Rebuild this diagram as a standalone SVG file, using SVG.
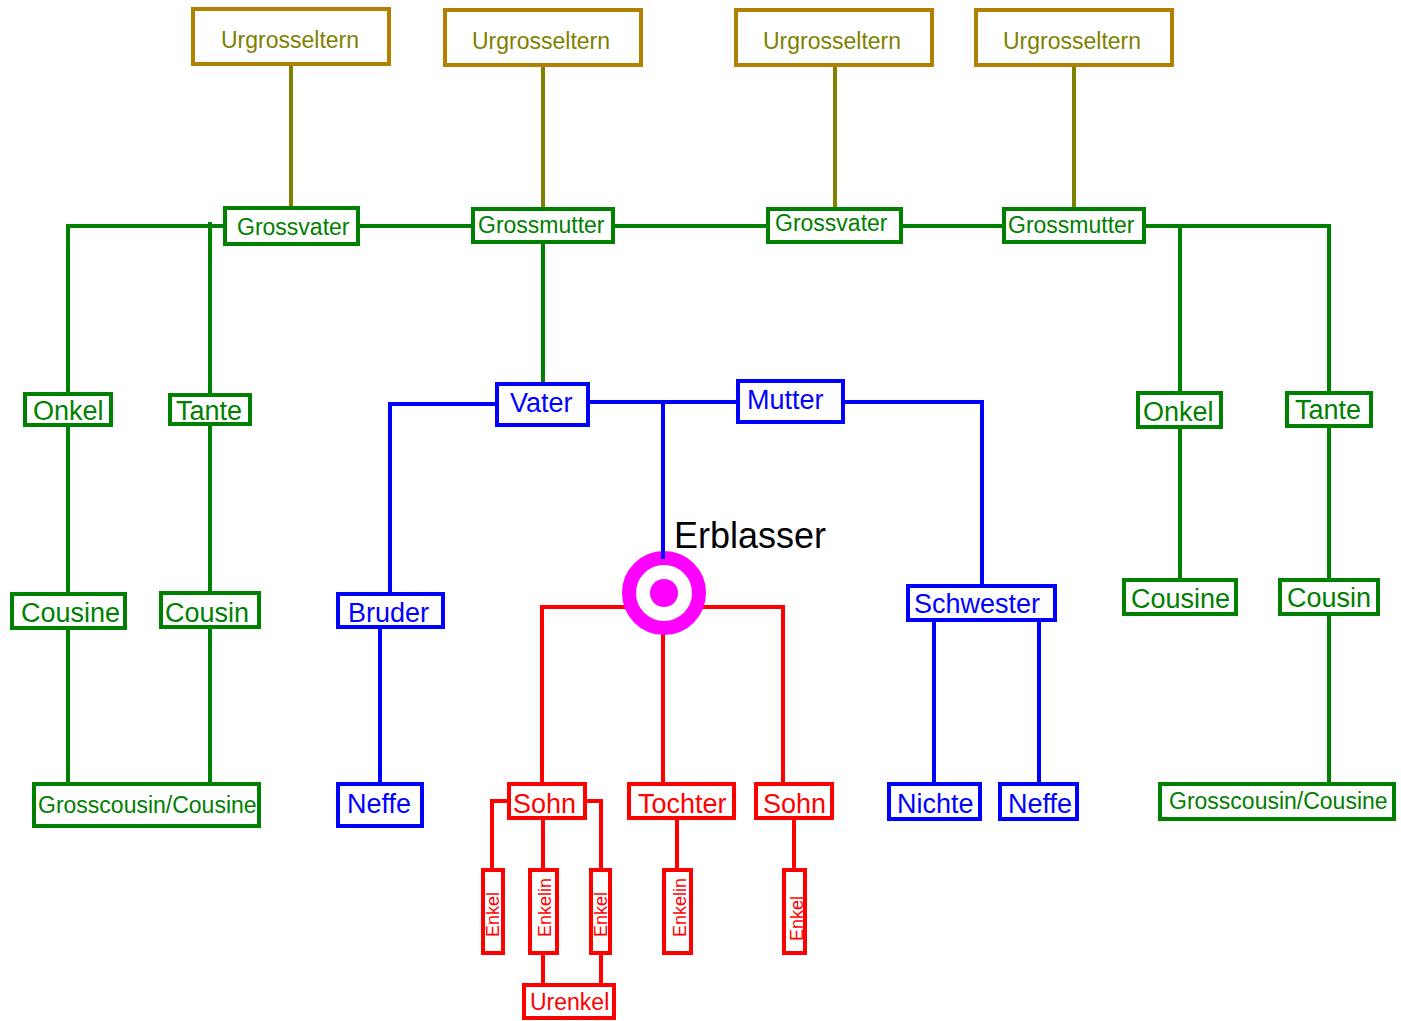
<svg xmlns="http://www.w3.org/2000/svg" width="1401" height="1021" viewBox="0 0 1401 1021">
<style>
rect{fill:#fff;stroke-width:4}
text{font-family:"Liberation Sans",Arial,sans-serif}
.u rect{stroke:#B08000}
.u text{fill:#808000;font-size:23px}
.g rect{stroke:#008000}
.g text{fill:#008000;font-size:27px}
.b rect{stroke:#0000FF}
.b text{fill:#0000FF;font-size:27px}
.r rect{stroke:#FF0000}
.r text{fill:#FF0000;font-size:27px}
.sm text{font-size:23px}
.e text{font-size:18px}
#connectors line,#connectors polyline{fill:none;stroke-width:4}
.lo{stroke:#808000}
.lg{stroke:#008000}
.lb{stroke:#0000FF}
.lr{stroke:#FF0000}
</style>
<rect x="0" y="0" width="1401" height="1021" style="fill:#fff;stroke:none"/>
<g id="connectors">
<line class="lo" x1="291" y1="66" x2="291" y2="207"/>
<line class="lo" x1="543" y1="67" x2="543" y2="208"/>
<line class="lo" x1="835" y1="67" x2="835" y2="208"/>
<line class="lo" x1="1074" y1="67" x2="1074" y2="208"/>
<line class="lg" x1="68" y1="226" x2="1329" y2="226"/>
<line class="lg" x1="68" y1="224" x2="68" y2="782"/>
<line class="lg" x1="210" y1="222" x2="210" y2="782"/>
<line class="lg" x1="1180" y1="224" x2="1180" y2="578"/>
<line class="lg" x1="1329" y1="224" x2="1329" y2="782"/>
<line class="lg" x1="543" y1="244" x2="543" y2="383"/>
<polyline class="lb" points="495,404 390,404 390,592"/>
<line class="lb" x1="380" y1="629" x2="380" y2="782"/>
<line class="lb" x1="590" y1="402" x2="736" y2="402"/>
<polyline class="lb" points="845,402 982,402 982,585"/>
<line class="lb" x1="934" y1="622" x2="934" y2="782"/>
<line class="lb" x1="1039" y1="622" x2="1039" y2="782"/>
<polyline class="lr" points="628,607 542,607 542,783"/>
<polyline class="lr" points="699,607 783,607 783,783"/>
<line class="lr" x1="663" y1="626" x2="663" y2="783"/>
<polyline class="lr" points="507,801 492,801 492,868"/>
<polyline class="lr" points="587,801 601,801 601,868"/>
<line class="lr" x1="543" y1="820" x2="543" y2="868"/>
<line class="lr" x1="677" y1="820" x2="677" y2="868"/>
<line class="lr" x1="794" y1="820" x2="794" y2="868"/>
<line class="lr" x1="543" y1="955" x2="543" y2="983"/>
<line class="lr" x1="601" y1="955" x2="601" y2="983"/>
</g>
<g id="erblasser">
<circle cx="664" cy="593" r="35" fill="#fff" stroke="#FF00FF" stroke-width="14"/>
<circle cx="664" cy="593" r="14" fill="#FF00FF"/>
<line x1="663" y1="402" x2="663" y2="559" stroke="#0000FF" stroke-width="4"/>
<text x="674" y="548" font-size="36" fill="#000">Erblasser</text>
</g>
<g id="urgrosseltern1" class="u"><rect x="193" y="9" width="196" height="55"/><text x="221" y="48">Urgrosseltern</text></g>
<g id="urgrosseltern2" class="u"><rect x="445" y="10" width="196" height="55"/><text x="472" y="49">Urgrosseltern</text></g>
<g id="urgrosseltern3" class="u"><rect x="736" y="10" width="196" height="55"/><text x="763" y="49">Urgrosseltern</text></g>
<g id="urgrosseltern4" class="u"><rect x="976" y="10" width="196" height="55"/><text x="1003" y="49">Urgrosseltern</text></g>
<g id="grossvater1" class="g sm"><rect x="225" y="208" width="133" height="36"/><text x="237" y="235">Grossvater</text></g>
<g id="grossmutter1" class="g sm"><rect x="473" y="209" width="140" height="33"/><text x="478" y="233">Grossmutter</text></g>
<g id="grossvater2" class="g sm"><rect x="768" y="209" width="133" height="33"/><text x="775" y="231">Grossvater</text></g>
<g id="grossmutter2" class="g sm"><rect x="1004" y="209" width="140" height="33"/><text x="1008" y="233">Grossmutter</text></g>
<g id="onkel1" class="g"><rect x="25" y="394" width="86" height="31"/><text x="33" y="420">Onkel</text></g>
<g id="tante1" class="g"><rect x="170" y="395" width="80" height="29"/><text x="176" y="420">Tante</text></g>
<g id="cousine1" class="g"><rect x="12" y="594" width="113" height="34"/><text x="21" y="622">Cousine</text></g>
<g id="cousin1" class="g"><rect x="161" y="593" width="98" height="34"/><text x="165" y="622">Cousin</text></g>
<g id="grosscousin1" class="g sm"><rect x="34" y="784" width="225" height="42"/><text x="38" y="813">Grosscousin/Cousine</text></g>
<g id="bruder" class="b"><rect x="338" y="594" width="105" height="33"/><text x="348" y="622">Bruder</text></g>
<g id="neffe1" class="b"><rect x="338" y="784" width="84" height="42"/><text x="347" y="813">Neffe</text></g>
<g id="vater" class="b"><rect x="497" y="384" width="91" height="41"/><text x="510" y="412">Vater</text></g>
<g id="mutter" class="b"><rect x="738" y="381" width="105" height="41"/><text x="747" y="409">Mutter</text></g>
<g id="schwester" class="b"><rect x="908" y="586" width="147" height="34"/><text x="914" y="613">Schwester</text></g>
<g id="nichte" class="b"><rect x="889" y="784" width="91" height="35"/><text x="897" y="813">Nichte</text></g>
<g id="neffe2" class="b"><rect x="1000" y="784" width="77" height="35"/><text x="1008" y="813">Neffe</text></g>
<g id="onkel2" class="g"><rect x="1138" y="393" width="83" height="34"/><text x="1143" y="421">Onkel</text></g>
<g id="tante2" class="g"><rect x="1287" y="393" width="84" height="33"/><text x="1295" y="419">Tante</text></g>
<g id="cousine2" class="g"><rect x="1124" y="580" width="112" height="34"/><text x="1131" y="608">Cousine</text></g>
<g id="cousin2" class="g"><rect x="1280" y="580" width="98" height="34"/><text x="1287" y="607">Cousin</text></g>
<g id="grosscousin2" class="g sm"><rect x="1160" y="784" width="234" height="35"/><text x="1169" y="809">Grosscousin/Cousine</text></g>
<g id="sohn1" class="r"><rect x="509" y="784" width="76" height="34"/><text x="513" y="813">Sohn</text></g>
<g id="tochter" class="r"><rect x="629" y="784" width="105" height="34"/><text x="638" y="813">Tochter</text></g>
<g id="sohn2" class="r"><rect x="756" y="784" width="76" height="34"/><text x="763" y="813">Sohn</text></g>
<g id="enkel1" class="r e"><rect x="483" y="870" width="20" height="83"/><text transform="translate(499 937) rotate(-90)">Enkel</text></g>
<g id="enkelin1" class="r e"><rect x="530" y="870" width="27" height="83"/><text transform="translate(551 937) rotate(-90)">Enkelin</text></g>
<g id="enkel2" class="r e"><rect x="591" y="870" width="19" height="83"/><text transform="translate(607 937) rotate(-90)">Enkel</text></g>
<g id="enkelin2" class="r e"><rect x="664" y="870" width="27" height="83"/><text transform="translate(686 937) rotate(-90)">Enkelin</text></g>
<g id="enkel3" class="r e"><rect x="784" y="870" width="21" height="83"/><text transform="translate(803 941) rotate(-90)">Enkel</text></g>
<g id="urenkel" class="r sm"><rect x="524" y="985" width="90" height="33"/><text x="530" y="1010">Urenkel</text></g>
</svg>
